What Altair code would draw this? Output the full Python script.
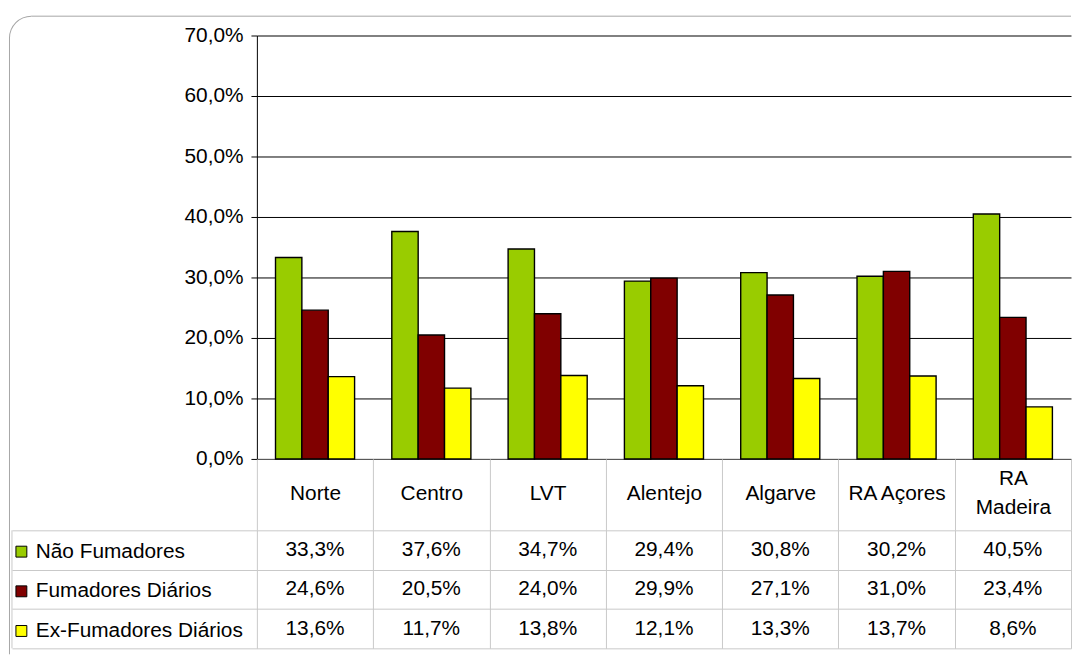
import altair as alt
import pandas as pd

# ---- data ----
regions = ["Norte", "Centro", "LVT", "Alentejo", "Algarve", "RA Açores", "RA Madeira"]
series = ["Não Fumadores", "Fumadores Diários", "Ex-Fumadores Diários"]
nao_fumadores = [33.3, 37.6, 34.7, 29.4, 30.8, 30.2, 40.5]
fumadores_diarios = [24.6, 20.5, 24.0, 29.9, 27.1, 31.0, 23.4]
ex_fumadores_diarios = [13.6, 11.7, 13.8, 12.1, 13.3, 13.7, 8.6]
y_ticks = [0.0, 0.1, 0.2, 0.3, 0.4, 0.5, 0.6, 0.7]
colors = ["#99CC00", "#800000", "#FFFF00"]

rows = []
for s, vals in zip(series, [nao_fumadores, fumadores_diarios, ex_fumadores_diarios]):
    for r, v in zip(regions, vals):
        rows.append({"Regiao": r, "Serie": s, "valor": v / 100.0})
df = pd.DataFrame(rows)

W = 821      # plot width
H = 427      # bar plot height
HEADER = 72  # category header row of the data table
TH = 119     # three data rows
FS = 21
FONT = "Liberation Sans"
LINE = "#c8c8c8"
BORDER = "#a6a6a6"

one = alt.Data(values=[{"k": 0}])

bars = alt.Chart(df).mark_bar(stroke="black", strokeWidth=1.4).encode(
    x=alt.X(
        "Regiao:N", sort=regions, title=None,
        scale=alt.Scale(paddingInner=0.32, paddingOuter=0.16),
        axis=alt.Axis(
            orient="bottom", tickBand="extent", tickSize=HEADER, tickColor="transparent",
            domainColor="#606060", domainWidth=1, labelAngle=0, labelFontSize=FS,
            labelColor="black", labelBaseline="middle",
            labelPadding={"condition": {"test": "datum.label == 'RA Madeira'", "value": -52},
                          "value": -37.5},
            labelLineHeight=29, labelOverlap=False, labelLimit=0,
            labelExpr="datum.label == 'RA Madeira' ? ['RA', 'Madeira'] : datum.label",
        ),
    ),
    xOffset=alt.XOffset("Serie:N", sort=series, scale=alt.Scale(paddingInner=0, paddingOuter=0)),
    y=alt.Y(
        "valor:Q", title=None,
        scale=alt.Scale(domain=[0, 0.7], nice=False),
        axis=alt.Axis(
            values=y_ticks,
            labelExpr="replace(format(datum.value, '.1%'), '.', ',')",
            grid=True, gridColor="black", gridWidth=1,
            domainColor="black", tickColor="black", tickSize=6,
            labelFontSize=FS, labelPadding=8, labelColor="black",
        ),
    ),
    color=alt.Color(
        "Serie:N", sort=series,
        scale=alt.Scale(domain=series, range=colors),
        legend=alt.Legend(
            orient="none", legendX=-248, legendY=510, title=None,
            symbolType="square", symbolSize=121, symbolStrokeColor="black",
            symbolStrokeWidth=1, symbolOpacity=1, labelFontSize=FS, labelColor="black",
            labelOffset=4, labelLimit=0, rowPadding=18, padding=0,
        ),
    ),
)

# decorative rounded frame (top edge, left edge, top-left corner)
top_line = alt.Chart(one).mark_rule(color=BORDER, strokeWidth=1).encode(
    x=alt.value(-227.5), x2=alt.value(W), y=alt.value(-19.5)
)
left_line = alt.Chart(one).mark_rule(color=BORDER, strokeWidth=1).encode(
    x=alt.value(-249.5), y=alt.value(2.5), y2=alt.value(624)
)
corner = alt.Chart(one).mark_arc(
    radius=22.5, radius2=21.5, theta=4.712389, theta2=6.283185, color=BORDER
).encode(x=alt.value(-227.5), y=alt.value(2.5))

top = alt.layer(bars, top_line, left_line, corner).properties(width=W, height=H)

table_text = alt.Chart(df).transform_calculate(
    txt="replace(format(datum.valor, '.1%'), '.', ',')"
).mark_text(fontSize=FS, color="black").encode(
    x=alt.X(
        "Regiao:N", sort=regions, title=None,
        scale=alt.Scale(paddingInner=0, paddingOuter=0),
        axis=alt.Axis(orient="top", labels=False, ticks=True, tickSize=HEADER,
                      tickColor=LINE, tickWidth=1, domain=False,
                      grid=True, tickBand="extent", gridColor=LINE, gridWidth=1),
    ),
    y=alt.Y(
        "Serie:N", sort=series, title=None,
        scale=alt.Scale(paddingInner=0, paddingOuter=0),
        axis=alt.Axis(labels=False, domain=False, ticks=True, tickBand="extent",
                      tickSize=247, tickColor=LINE, tickWidth=1,
                      grid=True, gridColor=LINE, gridWidth=1),
    ),
    text="txt:N",
)
table_left = alt.Chart(one).mark_rule(color=LINE, strokeWidth=1).encode(
    x=alt.value(-247), y=alt.value(0), y2=alt.value(TH)
)
table = alt.layer(table_text, table_left).properties(width=W, height=TH)

chart = alt.vconcat(top, table, spacing=HEADER, bounds="flush").properties(
    padding={"left": 1, "top": 5, "right": 0, "bottom": 0}
).configure(font=FONT).configure_view(stroke=None)

chart.save("out.html", embed_options={"renderer": "svg", "actions": False})
